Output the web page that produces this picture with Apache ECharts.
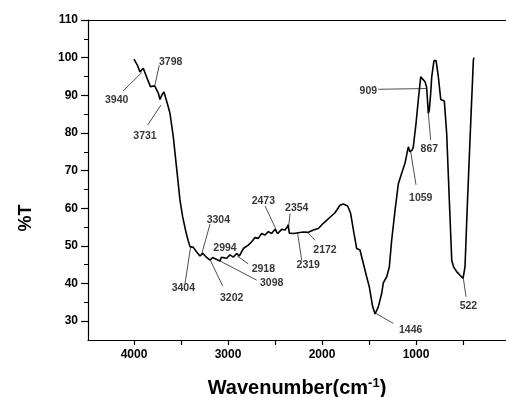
<!DOCTYPE html>
<html><head><meta charset="utf-8">
<script src="https://cdn.jsdelivr.net/npm/echarts@6/dist/echarts.min.js"></script>
<style>html,body{margin:0;padding:0;background:#fff}#c{width:506px;height:397px}</style>
</head><body><div id="c"></div>
<script>
// Spectrum data (wavenumber, %T)
const wavenumber = [4000,3960,3936,3918,3901,3860,3825,3805,3780,3759,3740,3723,3705,3681,3665,3646,3617,3582,3546,3511,3482,3450,3425,3404,3385,3369,3333,3298,3280,3269,3234,3191,3163,3120,3085,3070,3056,3014,2979,2943,2908,2880,2837,2784,2748,2713,2678,2642,2606,2571,2536,2500,2472,2429,2394,2369,2360,2348,2305,2252,2199,2146,2092,2039,1986,1915,1862,1809,1773,1727,1695,1660,1631,1596,1561,1525,1497,1461,1436,1401,1365,1348,1312,1284,1259,1223,1188,1150,1117,1082,1065,1057,1040,1029,1000,975,950,929,904,887,876,869,859,844,833,809,787,763,737,699,674,646,620,600,566,532,500,479,455,426,390,383];
const transmittance = [99.6,97.8,96.2,96.4,97.2,94.5,92.3,92.0,92.5,92.8,90.5,88.9,90.0,90.9,89.5,87.9,85.2,79.0,70.5,62.2,57.7,54.0,51.5,49.8,50.0,49.6,48.4,47.3,47.8,48.0,47.1,46.2,46.9,46.4,46.0,47.0,47.5,46.7,47.6,47.0,48.0,47.3,49.3,50.2,51.1,52.2,52.0,53.3,52.9,53.8,53.3,54.4,53.3,54.4,54.2,55.0,55.6,53.4,53.3,53.5,53.7,53.6,54.2,54.6,56.0,57.6,58.8,60.8,61.1,60.6,58.6,53.3,49.3,48.9,45.4,41.8,39.1,33.8,31.9,33.8,37.4,40.2,41.8,44.4,51.5,59.5,66.5,69.5,72.0,76.3,75.0,74.6,75.5,76.3,82.5,89.0,94.9,95.4,93.6,92.1,91.8,85.2,86.0,90.5,94.9,99.2,99.2,95.0,88.9,88.5,79.9,62.2,46.2,44.4,43.1,42.2,41.4,44.4,60.4,78.1,99.4,100.0];

// Peak annotations
const annoLabels = ['3940','3798','3731','3404','3304','3202','3098','2994','2918','2473','2354','2319','2172','1446','1059','909','867','522'];
const annoTextX  = [4184,3610,3883,3475,3103,2961,2535,3032,2624,2624,2269,2146,1968,1057,950,1507,858,443];
const annoTextY  = [88.6,98.8,79.2,38.7,56.9,36.0,40.2,49.3,43.7,61.9,60.1,44.9,48.9,27.6,62.8,91.2,75.6,34.0];
const leaderFromX = [4114,3731,3854,3457,3191,3056,2695,null,2784,2606,2340,2216,2074,1241,1000,1401,844,468];
const leaderFromY = [91.2,98.0,82.1,40.0,55.8,39.3,40.9,null,45.2,60.6,58.6,46.2,51.5,29.4,66.2,91.6,78.1,36.5];
const leaderToX   = [3918,3777,3713,3397,3280,3184,3085,null,2901,2482,2354,2259,2146,1436,1057,887,869,497];
const leaderToY   = [96.0,92.7,87.4,49.8,47.8,46.0,46.0,null,47.3,54.0,55.3,53.3,53.3,32.2,75.0,91.8,85.2,41.4];

// Axis ticks
const xTicks  = [500,1000,1500,2000,2500,3000,3500,4000];
const xLabels = [1000,2000,3000,4000];
const yMajor = [30,40,50,60,70,80,90,100,110];
const yMinor = [35,45,55,65,75,85,95,105];

const FONT = 'Liberation Sans, Arial, sans-serif';
const X_MIN = 43, X_MAX = 4489;
const chart = echarts.init(document.getElementById('c'));

const spectrum = wavenumber.map((w, i) => [w, transmittance[i]]);
const leaders = [];
annoLabels.forEach((l, i) => {
  if (leaderFromX[i] != null) leaders.push({coords: [[leaderFromX[i], leaderFromY[i]], [leaderToX[i], leaderToY[i]]]});
});
const texts = annoLabels.map((l, i) => ({name: l, value: [annoTextX[i], annoTextY[i]]}));

chart.setOption({
  animation: false,
  backgroundColor: '#fff',
  grid: {left: 88, top: 20, right: 0, height: 320, show: false, containLabel: false, outerBoundsMode: 'none'},
  xAxis: [{
    type: 'value', inverse: true, min: X_MIN, max: X_MAX, position: 'bottom',
    name: '{a|Wavenumber(cm}{s|-1}{a|)}', nameLocation: 'middle', nameGap: 37,
    nameTextStyle: {rich: {
      a: {fontFamily: FONT, fontWeight: 'bold', fontSize: 20, color: '#000'},
      s: {fontFamily: FONT, fontWeight: 'bold', fontSize: 13, color: '#000', padding: [0, 0, 9, 0]}
    }},
    axisLine: {lineStyle: {color: '#000', width: 1.2}},
    axisTick: {show: true, inside: false, length: 5, customValues: xTicks, lineStyle: {color: '#000', width: 1.2}},
    axisLabel: {fontFamily: FONT, fontWeight: 'bold', fontSize: 12, color: '#000', margin: 9, customValues: xLabels,
      formatter: v => String(v)},
    splitLine: {show: false}
  }, {
    type: 'value', inverse: true, min: X_MIN, max: X_MAX, position: 'top',
    axisLine: {show: true, lineStyle: {color: '#000', width: 1.2}},
    axisTick: {show: false}, axisLabel: {show: false}, splitLine: {show: false}
  }],
  yAxis: [{
    type: 'value', min: 25, max: 110,
    name: '%T', nameLocation: 'middle', nameGap: 53,
    nameTextStyle: {fontFamily: FONT, fontWeight: 'bold', fontSize: 18, color: '#000', padding: [0, 76, 0, 0]},
    axisLine: {show: true, lineStyle: {color: '#000', width: 1.2}},
    axisTick: {show: true, length: 7, customValues: yMajor, lineStyle: {color: '#000', width: 1.2}},
    axisLabel: {fontFamily: FONT, fontWeight: 'bold', fontSize: 12, color: '#000', margin: 10, customValues: yMajor},
    splitLine: {show: false}
  }, {
    type: 'value', min: 25, max: 110, position: 'left',
    axisLine: {show: false},
    axisTick: {show: true, length: 4, customValues: yMinor, lineStyle: {color: '#000', width: 1}},
    axisLabel: {show: false, customValues: yMinor},
    splitLine: {show: false}
  }],
  series: [{
    type: 'line', data: spectrum, showSymbol: false, symbol: 'none',
    lineStyle: {color: '#000', width: 1.6}, z: 3
  }, {
    type: 'lines', coordinateSystem: 'cartesian2d', data: leaders,
    lineStyle: {color: '#222', width: 0.8, opacity: 1}, z: 2, silent: true
  }, {
    type: 'scatter', data: texts, symbolSize: 0, z: 4, silent: true,
    label: {show: true, position: 'inside', formatter: p => p.name,
      fontFamily: FONT, fontWeight: 'bold', fontSize: 10.5, color: '#000'}
  }]
});
</script></body></html>
